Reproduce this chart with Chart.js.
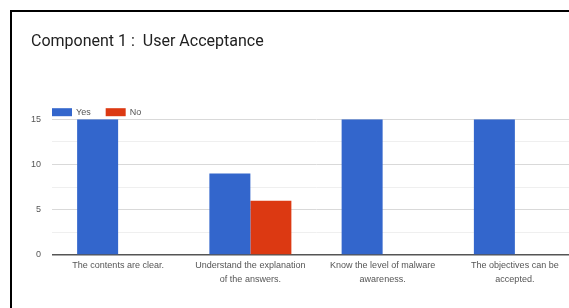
<!DOCTYPE html>
<html>
<head>
<meta charset="utf-8">
<script src="https://cdn.jsdelivr.net/npm/chart.js@4.4.1/dist/chart.umd.min.js"></script>
<style>
  html, body { margin: 0; padding: 0; background: #fff; width: 569px; height: 308px; overflow: hidden; }
  #frame { position: absolute; left: 10px; top: 10px; width: 620px; height: 400px; border: 2px solid #000; box-sizing: border-box; }
  #c { position: absolute; left: 0; top: 0; }
</style>
</head>
<body>
<div id="frame"></div>
<canvas id="c" width="600" height="308"></canvas>
<script>
const title = "Component 1 :  User Acceptance";
const categories = [
  "The contents are clear.",
  ["Understand the explanation", "of the answers."],
  ["Know the level of malware", "awareness."],
  ["The objectives can be", "accepted."]
];
const seriesNames = ["Yes", "No"];
const yesValues = [15, 9, 15, 15];
const noValues = [0, 6, 0, 0];
const yTickLabels = [0, 5, 10, 15];

const colors = ["#3366CC", "#DC3912"];
const labelFont = "'Liberation Sans', Arial, sans-serif";

const legendPlugin = {
  id: "topLegend",
  afterDraw(chart) {
    const ctx = chart.ctx;
    ctx.save();
    ctx.font = "9px " + labelFont;
    ctx.textBaseline = "middle";
    let x = chart.chartArea.left;
    const y = chart.chartArea.top - 7;
    chart.data.datasets.forEach(ds => {
      ctx.fillStyle = ds.backgroundColor;
      ctx.fillRect(x, y - 4, 20, 8);
      ctx.fillStyle = "#555";
      ctx.textAlign = "left";
      ctx.fillText(ds.label, x + 24, y);
      x += 24 + ctx.measureText(ds.label).width + 15;
    });
    ctx.restore();
  }
};

new Chart(document.getElementById("c"), {
  type: "bar",
  data: {
    labels: categories,
    datasets: [
      { label: seriesNames[0], data: yesValues, backgroundColor: colors[0] },
      { label: seriesNames[1], data: noValues, backgroundColor: colors[1] }
    ]
  },
  options: {
    responsive: false,
    animation: false,
    layout: { padding: { left: 31, right: 19, top: 0, bottom: 0 } },
    datasets: { bar: { categoryPercentage: 0.62, barPercentage: 1.0 } },
    plugins: {
      legend: { display: false },
      tooltip: { enabled: false },
      title: {
        display: true,
        text: title,
        align: "start",
        color: "#212121",
        font: { family: "Roboto, sans-serif", size: 16, weight: "normal" },
        padding: { top: 32, bottom: 68 }
      }
    },
    scales: {
      x: {
        grid: { display: false, drawTicks: false },
        border: { display: false },
        ticks: {
          color: "#555",
          font: { family: labelFont, size: 9, lineHeight: "14px" },
          padding: 4,
          maxRotation: 0,
          autoSkip: false
        },
        afterFit(scale) { scale.height = 53; }
      },
      y: {
        min: 0,
        max: 15,
        border: { display: false },
        grid: {
          drawTicks: false,
          color: ctx => ctx.tick.value === 0 ? "#555" : (ctx.tick.value % 5 === 0 ? "#d9d9d9" : "#efefef"),
          lineWidth: ctx => ctx.tick.value === 0 ? 1.5 : 1
        },
        ticks: {
          stepSize: 2.5,
          color: "#555",
          font: { family: labelFont, size: 9 },
          padding: 11,
          callback: v => yTickLabels.includes(v) ? String(v) : ""
        },
        afterFit(scale) { scale.width = 21; }
      }
    }
  },
  plugins: [legendPlugin]
});
</script>
</body>
</html>
